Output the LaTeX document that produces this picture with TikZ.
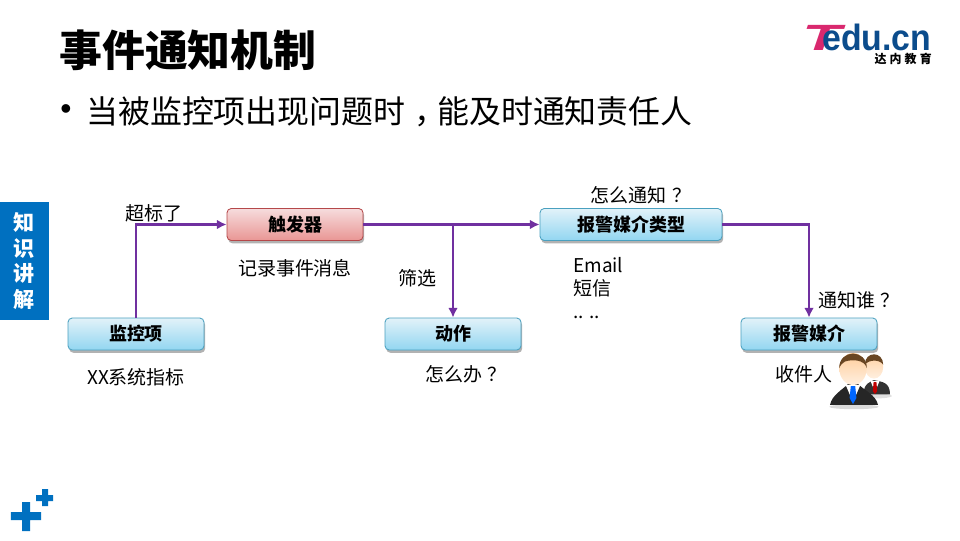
\documentclass[tikz,border=0pt]{standalone}
\usepackage{fontspec}
\usepackage{xcolor}
\setmainfont{Noto Sans CJK SC}
\newfontfamily\logofont{Liberation Sans}
\usetikzlibrary{arrows.meta,positioning,calc,shadows}
\definecolor{eduBlue}{HTML}{0070C0}
\definecolor{flowPurple}{HTML}{7030A0}
\definecolor{logoBlue}{HTML}{0B4C8C}
\definecolor{logoPink}{HTML}{D9286E}
\definecolor{boxTop}{HTML}{E2F2F9}
\definecolor{boxBottom}{HTML}{92D6F1}
\definecolor{boxLine}{HTML}{4AA0BF}
\definecolor{alarmTop}{HTML}{F6DCDD}
\definecolor{alarmBottom}{HTML}{E99694}
\definecolor{alarmLine}{HTML}{B5484A}
\newcommand{\qmark}{\kern0.3em？\kern-0.3em}

\begin{document}
\begin{tikzpicture}[
    >={Latex[length=2.4mm,width=2.4mm]},
    box/.style={draw=boxLine, line width=0.6pt, rounded corners=3pt, align=center, minimum height=8mm, minimum width=34mm,
        top color=boxTop, bottom color=boxBottom, font=\fontsize{12.8}{15}\selectfont\bfseries,
        drop shadow={shadow xshift=0.3mm, shadow yshift=-0.7mm, fill=black!60, opacity=0.5}},
    alarm/.style={box, draw=alarmLine, top color=alarmTop, bottom color=alarmBottom},
    note/.style={font=\fontsize{13.5}{16}\selectfont, inner sep=0pt},
    arrow/.style={->, draw=flowPurple, line width=1.7pt}
]
\useasboundingbox (0,0) rectangle (24,13.5);
% header
\node[anchor=west, inner sep=0pt, font=\fontsize{30.5}{36}\selectfont\bfseries] (title) at (1.475,12.25) {事件通知机制};
\node[inner sep=0pt, font=\logofont\fontsize{22.7}{27}\selectfont] (dot) at (1.65,10.7) {•};
\node[anchor=west, inner sep=0pt, font=\fontsize{22.7}{27}\selectfont] (point) at (2.15,10.7) {当被监控项出现问题时\kern0.3em，\kern-0.3em能及时通知责任人};
% logo
\node[anchor=base west, inner sep=0pt, xscale=1.75, text=logoPink, font=\logofont\fontsize{26}{26}\selectfont\bfseries\itshape] (logoT) at (20.05,12.225) {T};
\node[anchor=base west, inner sep=0pt, xscale=0.925, text=logoBlue, font=\logofont\fontsize{26}{26}\selectfont\bfseries] (logoedu) at (20.55,12.225) {edu.cn};
\node[anchor=east, inner sep=0pt, font=\fontsize{8.5}{10}\selectfont\bfseries\addfontfeature{LetterSpace=26}] (logocn) at (23.3,12.02) {达内教育};
% side tab
\node[fill=eduBlue, text=white, minimum width=12.25mm, minimum height=29.5mm, inner sep=0pt, align=center, font=\fontsize{15}{18.2}\selectfont\bfseries] (tab) at (0.6125,6.975) {知\\识\\讲\\解};
% flow boxes
\node[box] (monitor) at (3.4,5.15) {监控项};
\node[alarm] (trigger) at (7.375,7.8875) {触发器};
\node[box] (action) at (11.325,5.15) {动作};
\node[box, minimum width=45.5mm] (mediatype) at (15.775,7.8875) {报警媒介类型};
\node[box] (media) at (20.225,5.15) {报警媒介};
\coordinate (branch) at (action.north |- trigger.east);
\draw[arrow] (monitor.north) |- (trigger.west);
\draw[arrow] (trigger.east) -- (mediatype.west);
\draw[arrow] (branch) -- (action.north);
\draw[arrow] (mediatype.east) -| (media.north);
% notes
\node[note] (exceed) at (3.85,8.175) {超标了};
\node[note] (record) at (7.375,6.8) {记录事件消息};
\node[note] (filter) at (10.425,6.55) {筛选};
\node[note] (what) at (11.575,4.15) {怎么办\qmark};
\node[note] (how) at (15.96,8.625) {怎么通知\qmark};
\node[note, anchor=west, align=left, font=\fontsize{13.5}{16.4}\selectfont] (kinds) at (14.325,6.3) {Email\\短信\\.. ..};
\node[note] (metric) at (3.4,4.075) {XX系统指标};
\node[note] (who) at (21.4,6) {通知谁\qmark};
% people
\fill[black!12] (21.9,3.6) ellipse (0.4 and 0.06);
\fill[black!15] (21.35,3.33) ellipse (0.62 and 0.06);
\fill[black!80] (21.58,3.64) .. controls (21.6,3.92) and (21.75,3.95) .. (21.85,4) .. controls (22.05,3.95) and (22.25,3.95) .. (22.25,3.64) -- cycle;
\fill[white] (21.76,3.98) -- (21.99,3.98) -- (21.875,3.7) -- cycle;
\fill[red!75!black] (21.84,3.95) -- (21.91,3.95) -- (21.93,3.72) -- (21.875,3.65) -- (21.82,3.72) -- cycle;
\shade[top color=orange!35, bottom color=orange!12] (21.85,4.325) ellipse (0.23 and 0.29);
\fill[brown!55!black] (21.62,4.38) .. controls (21.62,4.73) and (22.08,4.73) .. (22.08,4.38) .. controls (22,4.52) and (21.72,4.52) .. (21.62,4.38) -- cycle;
\fill[black!85] (20.75,3.38) .. controls (20.8,3.62) and (21.05,3.75) .. (21.2,3.9) -- (21.45,3.9) .. controls (21.6,3.75) and (21.9,3.62) .. (21.95,3.38) -- cycle;
\fill[white] (21.14,3.88) -- (21.51,3.88) -- (21.325,3.45) -- cycle;
\fill[blue!60!cyan] (21.27,3.85) -- (21.38,3.85) -- (21.41,3.55) -- (21.325,3.4) -- (21.24,3.55) -- cycle;
\shade[top color=orange!40, bottom color=orange!12] (21.325,4.275) ellipse (0.34 and 0.4);
\fill[brown!55!black] (20.98,4.3) .. controls (20.98,4.78) and (21.67,4.78) .. (21.67,4.3) .. controls (21.6,4.52) and (21.3,4.52) .. (21.12,4.46) .. controls (21.05,4.42) and (21,4.36) .. (20.98,4.3) -- cycle;
\node[note] (receiver) at (20.1,4.15) {收件人};
% corner marks
\fill[eduBlue] (0.275,0.5) rectangle (1.025,0.7) (0.55,0.225) rectangle (0.75,0.95);
\fill[eduBlue] (0.9,0.975) rectangle (1.325,1.125) (1.05,0.85) rectangle (1.2,1.275);
\end{tikzpicture}
\end{document}
